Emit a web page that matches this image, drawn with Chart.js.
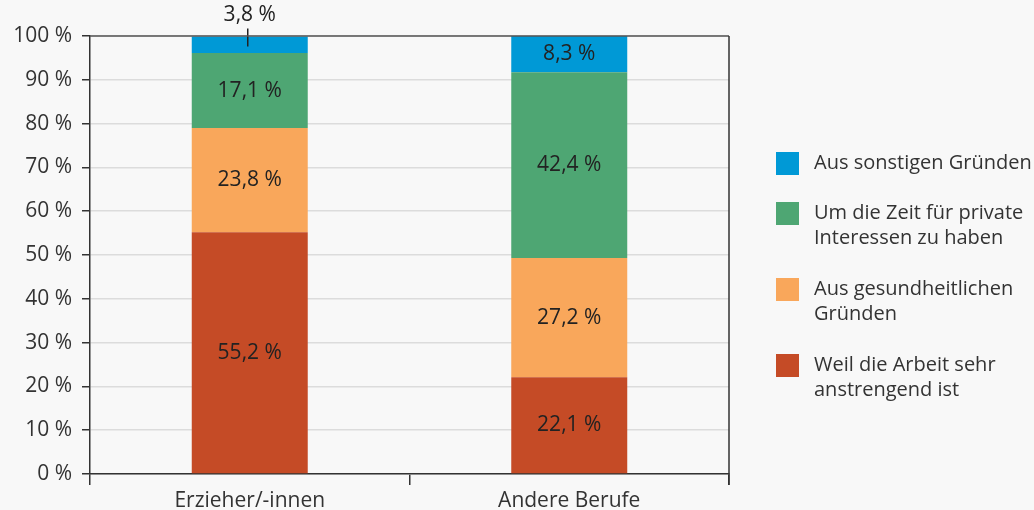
<!DOCTYPE html>
<html>
<head>
<meta charset="utf-8">
<script src="https://cdn.jsdelivr.net/npm/chart.js@4"></script>
<style>
  html, body { margin: 0; padding: 0; background: #f8f8f8; }
  #c { display: block; }
</style>
</head>
<body>
<canvas id="c" width="1034" height="510"></canvas>
<script>
'use strict';

// Daten
const categories = ['Erzieher/-innen', 'Andere Berufe'];
const weilArbeit = [55.2, 22.1];
const gesundheit = [23.8, 27.2];
const privat = [17.1, 42.4];
const sonstige = [3.8, 8.3];
const yTicks = [0, 10, 20, 30, 40, 50, 60, 70, 80, 90, 100];

const legendLines = [
  ['Aus sonstigen Gründen'],
  ['Um die Zeit für private', 'Interessen zu haben'],
  ['Aus gesundheitlichen', 'Gründen'],
  ['Weil die Arbeit sehr', 'anstrengend ist']
];

const FONT = '"Open Sans", "Noto Sans", sans-serif';
const fmt = v => v.toFixed(1).replace('.', ',') + ' %';

// Werte in den Balken (kleine Werte oben mit Linie)
const valueLabels = {
  id: 'valueLabels',
  afterDatasetsDraw(chart) {
    const ctx = chart.ctx;
    ctx.save();
    ctx.font = '21px ' + FONT;
    ctx.fillStyle = '#222';
    ctx.textAlign = 'center';
    ctx.textBaseline = 'middle';
    chart.data.datasets.forEach((ds, i) => {
      chart.getDatasetMeta(i).data.forEach((bar, j) => {
        const v = ds.data[j];
        if (v < 5) {
          ctx.strokeStyle = '#222';
          ctx.lineWidth = 1.5;
          ctx.beginPath();
          ctx.moveTo(bar.x - 2, bar.y - 8);
          ctx.lineTo(bar.x - 2, bar.y + 10);
          ctx.stroke();
          ctx.fillText(fmt(v), bar.x, bar.y - 21);
        } else {
          ctx.fillText(fmt(v), bar.x, (bar.y + bar.base) / 2);
        }
      });
    });
    ctx.restore();
  }
};

// Rahmen oben und rechts
const frame = {
  id: 'frame',
  afterDraw(chart) {
    const a = chart.chartArea;
    const ctx = chart.ctx;
    ctx.save();
    ctx.lineWidth = 1.5;
    ctx.strokeStyle = '#555';
    ctx.beginPath();
    ctx.moveTo(a.left, a.top);
    ctx.lineTo(a.right, a.top);
    ctx.stroke();
    ctx.strokeStyle = '#333';
    ctx.beginPath();
    ctx.moveTo(a.right, a.top);
    ctx.lineTo(a.right, chart.scales.x.bottom - 25);
    ctx.stroke();
    ctx.restore();
  }
};

// Legende rechts
const sideLegend = {
  id: 'sideLegend',
  afterDraw(chart) {
    const ctx = chart.ctx;
    const tops = [152, 202, 278, 354];
    const order = [3, 2, 1, 0];
    ctx.save();
    ctx.font = '20px ' + FONT;
    ctx.textBaseline = 'middle';
    ctx.textAlign = 'left';
    order.forEach((di, k) => {
      const ds = chart.data.datasets[di];
      ctx.fillStyle = ds.backgroundColor;
      ctx.fillRect(776, tops[k], 23, 23);
      ctx.fillStyle = '#333';
      legendLines[k].forEach((line, n) => {
        ctx.fillText(line, 814, tops[k] + 11.5 + n * 25);
      });
    });
    ctx.restore();
  }
};

const ctx = document.getElementById('c');
new Chart(ctx, {
  type: 'bar',
  data: {
    labels: categories,
    datasets: [
      { label: 'Weil die Arbeit sehr anstrengend ist', data: weilArbeit, backgroundColor: '#c54b26' },
      { label: 'Aus gesundheitlichen Gründen', data: gesundheit, backgroundColor: '#f9a75b' },
      { label: 'Um die Zeit für private Interessen zu haben', data: privat, backgroundColor: '#4ea673' },
      { label: 'Aus sonstigen Gründen', data: sonstige, backgroundColor: '#0099d6' }
    ]
  },
  options: {
    responsive: false,
    animation: false,
    devicePixelRatio: 1,
    categoryPercentage: 1,
    barPercentage: 0.363,
    layout: { padding: { top: 36, right: 305, left: 0, bottom: 0 } },
    plugins: {
      legend: { display: false },
      tooltip: { enabled: false }
    },
    scales: {
      x: {
        stacked: true,
        afterFit: s => { s.height = 36; },
        grid: { drawOnChartArea: false, offset: true, tickLength: 11, color: '#333', lineWidth: 1.5 },
        border: { color: '#333', width: 1.5 },
        ticks: { color: '#333', font: { family: FONT, size: 21 }, padding: 3 }
      },
      y: {
        stacked: true,
        min: 0,
        max: 100,
        afterFit: s => { s.width = 90; },
        afterBuildTicks: s => { s.ticks = yTicks.map(v => ({ value: v })); },
        grid: { color: '#dcdcdc', lineWidth: 1.5, tickColor: '#333', tickLength: 8 },
        border: { color: '#333', width: 1.5 },
        ticks: {
          color: '#333',
          padding: 10,
          font: { family: FONT, size: 21 },
          callback: v => v + ' %'
        }
      }
    }
  },
  plugins: [valueLabels, frame, sideLegend]
});
</script>
</body>
</html>
